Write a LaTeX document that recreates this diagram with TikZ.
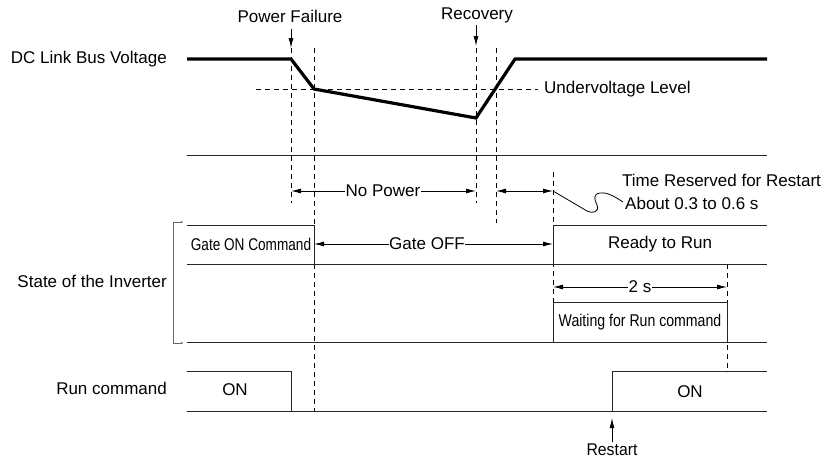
\documentclass[tikz,border=0pt]{standalone}
\usepackage{fontspec}
\setmainfont{Liberation Sans}
\usepackage{graphicx}
\usetikzlibrary{arrows.meta}
\begin{document}
\begin{tikzpicture}[x=1pt,y=-1pt,
  lbl/.style={inner sep=1pt, font=\fontsize{17}{20}\selectfont},
  sig/.style={line width=1pt, draw=black!85},
  volt/.style={line width=3.2pt, line join=miter},
  dashln/.style={dash pattern=on 5pt off 4pt, line width=0.9pt},
  dim/.style={line width=0.9pt, {Latex[length=10pt,width=5pt]}-{Latex[length=10pt,width=5pt]}},
  ptr/.style={line width=0.9pt, -{Latex[length=10pt,width=5pt]}},
  brk/.style={line width=0.7pt, draw=black!60, {Latex[length=3pt,width=2pt]}-{Latex[length=3pt,width=2pt]}}
]
\useasboundingbox (0,0) rectangle (837,463);

% ---------- labels on the left ----------
\node[lbl, anchor=east] (ldc) at (168,59) {DC Link Bus Voltage};
\node[lbl, anchor=east] (lst) at (168,281) {State of the Inverter};
\node[lbl, anchor=east] (lrc) at (168,388) {Run command};

% ---------- key coordinates ----------
\coordinate (v0) at (187,59);
\coordinate (v1) at (291,59);
\coordinate (v2) at (314,89);
\coordinate (v3) at (476,118);
\coordinate (v4) at (515,59);
\coordinate (v5) at (767,59);

% ---------- DC link bus voltage ----------
\draw[volt] (v0) -- (v1) -- (v2) -- (v3) -- (v4) -- (v5);

% undervoltage level
\coordinate (uv0) at (256,89.5);
\coordinate (uv1) at (538,89.5);
\node[lbl, anchor=west] (uvl) at (543,89.5) {Undervoltage Level};
\draw[dashln] (uv0) -- (uv1);

% events
\node[lbl] (pf) at (290,16) {Power Failure};
\node[lbl] (rec) at (477,15) {Recovery};
\coordinate (pfa) at (291,48);
\coordinate (reca) at (476,46);
\draw[ptr] (291,29) -- (pfa);
\draw[ptr] (476,25) -- (reca);

% vertical dashed markers
\coordinate (d1t) at (291,48); \coordinate (d1b) at (291,203);
\coordinate (d2t) at (314,48); \coordinate (d2b) at (314,411);
\coordinate (d3t) at (476,48); \coordinate (d3b) at (476,203);
\coordinate (d4t) at (496,48); \coordinate (d4b) at (496,223);
\coordinate (d5t) at (553,172); \coordinate (d5b) at (553,302);
\coordinate (d6t) at (727,264); \coordinate (d6b) at (727,372);
\draw[dashln] (d1t) -- (d1b);
\draw[dashln] (d2t) -- (d2b);
\draw[dashln] (d3t) -- (d3b);
\draw[dashln] (d4t) -- (d4b);
\draw[dashln] (d5t) -- (d5b);
\draw[dashln] (d6t) -- (d6b);

% separator line
\coordinate (s0) at (187,155); \coordinate (s1) at (767,155);
\draw[sig] (s0) -- (s1);

% No power
\coordinate (np0) at (291,191); \coordinate (np1) at (476,191);
\node[lbl, fill=white, inner sep=0.5pt] (np) at (383,191) {No Power};
\draw[ptr] (np.west) -- (np0);
\draw[ptr] (np.east) -- (np1);

% restart reserve
\coordinate (rr0) at (496,191); \coordinate (rr1) at (553,191);
\draw[dim] (rr0) -- (rr1);
\draw[line width=0.8pt] (rr1) -- (587,211)
  .. controls (592,214) and (600,212) .. (597,205)
  .. controls (594,199) and (593,194) .. (600,193)
  .. controls (608,192) and (615,197) .. (623,202);
\node[lbl, anchor=west] (trr) at (621,180) {Time Reserved for Restart};
\node[lbl, anchor=west] (abt) at (624,203) {About 0.3 to 0.6 s};

% ---------- state of the inverter ----------
\coordinate (g0) at (187,225); \coordinate (g1) at (314,225);
\coordinate (g2) at (314,264);
\coordinate (r0) at (553,264); \coordinate (r1) at (553,225);
\coordinate (r2) at (767,225);
\coordinate (b0) at (187,264); \coordinate (b1) at (767,264);
\draw[sig] (g0) -- (g1) -- (g2);
\draw[sig] (r0) -- (r1) -- (r2);
\draw[sig] (b0) -- (b1);
\node[lbl] (gon) at (251,244) {\scalebox{0.8}[1]{Gate ON Command}};
\node[lbl, fill=white, inner sep=0.5pt] (goff) at (427,244) {Gate OFF};
\draw[ptr] (goff.west) -- (314,244);
\draw[ptr] (goff.east) -- (553,244);
\node[lbl] (rdy) at (660,244) {Ready to Run};

% 2 s
\coordinate (t0) at (553,287); \coordinate (t1) at (727,287);
\node[lbl, fill=white, inner sep=0.5pt] (two) at (640,287) {2 s};
\draw[ptr] (two.west) -- (t0);
\draw[ptr] (two.east) -- (t1);

% waiting box
\coordinate (w0) at (553,342); \coordinate (w1) at (553,302);
\coordinate (w2) at (727,302); \coordinate (w3) at (727,342);
\draw[sig] (w0) -- (w1) -- (w2) -- (w3);
\node[lbl] (wait) at (640,322) {\scalebox{0.83}[1]{Waiting for Run command}};
\coordinate (e0) at (187,342); \coordinate (e1) at (767,342);
\draw[sig] (e0) -- (e1);

% bracket
\coordinate (k0) at (184,222); \coordinate (k1) at (173,222);
\coordinate (k2) at (173,343); \coordinate (k3) at (184,343);
\draw[brk] (k0) -- (k1) -- (k2) -- (k3);

% ---------- run command ----------
\coordinate (c0) at (187,371); \coordinate (c1) at (291,371);
\coordinate (c2) at (291,411);
\coordinate (c3) at (187,411); \coordinate (c4) at (767,411);
\coordinate (c5) at (612,411); \coordinate (c6) at (612,371);
\coordinate (c7) at (767,371);
\draw[sig] (c0) -- (c1) -- (c2);
\draw[sig] (c3) -- (c4);
\draw[sig] (c5) -- (c6) -- (c7);
\node[lbl] (on1) at (235,390) {ON};
\node[lbl] (on2) at (690,392) {ON};
\node[lbl] (rst) at (612,450) {\scalebox{0.93}[1]{Restart}};
\coordinate (rsa) at (612,418);
\draw[ptr] (rst.north) ++(0,-1) -- (rsa);
\end{tikzpicture}
\end{document}
